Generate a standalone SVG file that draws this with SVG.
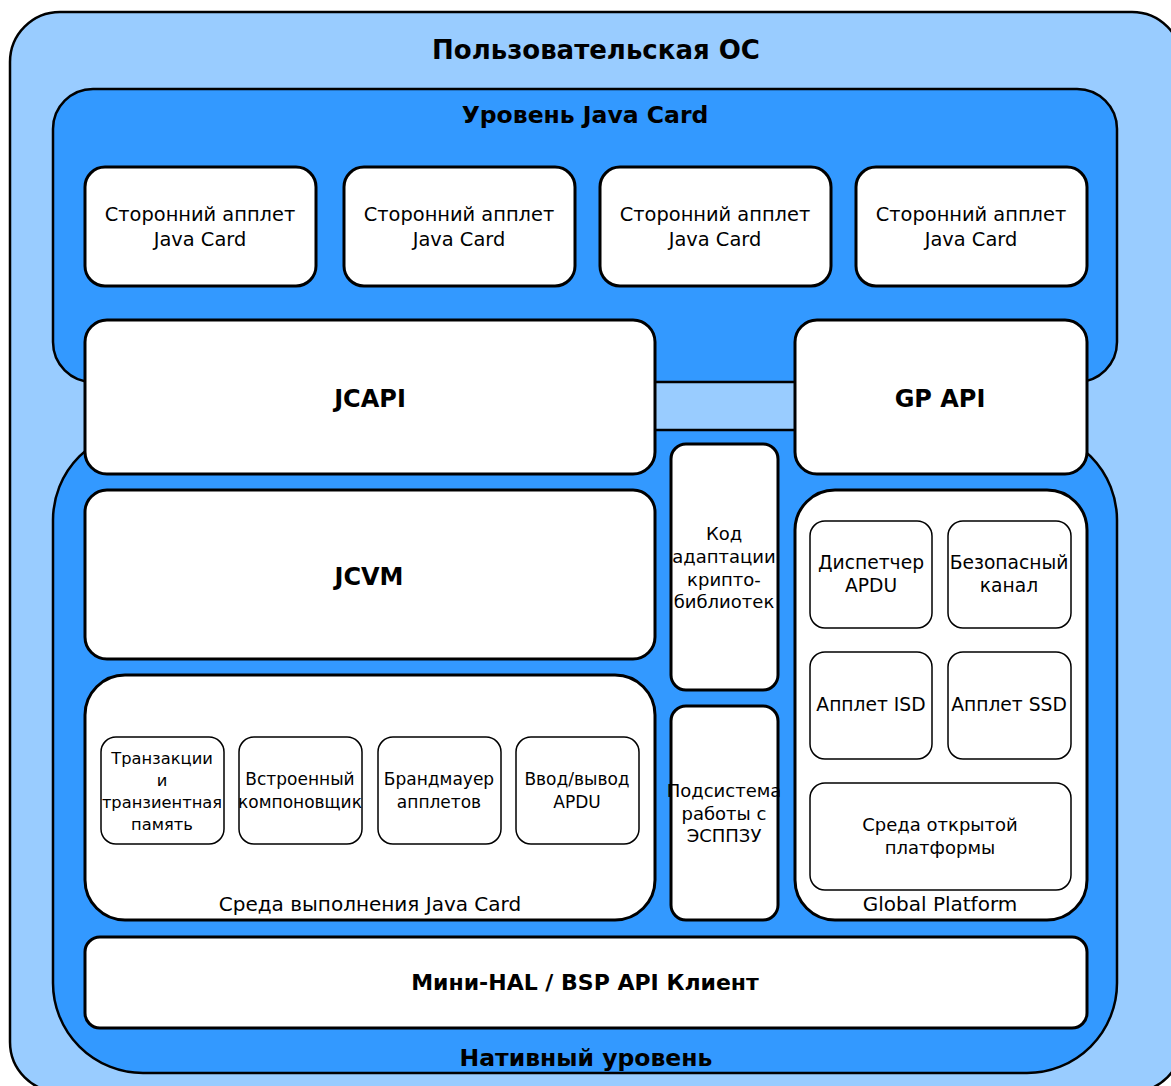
<svg xmlns="http://www.w3.org/2000/svg" width="1171" height="1086" viewBox="0 0 1171 1086">
<style>
.layer0{fill:#99CCFF;stroke:#000;stroke-width:2.5}
.layer{fill:#3399FF;stroke:#000;stroke-width:2.5}
.box{fill:#fff;stroke:#000;stroke-width:3}
.sub{fill:#fff;stroke:#000;stroke-width:1.5}
text{font-family:"DejaVu Sans","Liberation Sans",sans-serif;fill:#000;text-anchor:middle}
.t{font-size:19.4px}
.l{font-size:20px}
.o{font-size:18px}
.s{font-size:17px}
.s2{font-size:16.3px}
.c{font-size:18px}
.g{font-size:18.7px}
.b{font-size:24px;font-weight:bold}
.m{font-size:22px;font-weight:bold}
.lt{font-size:23.5px;font-weight:bold}
.h{font-size:26px;font-weight:bold}
</style>
<rect x="10" y="12" width="1172" height="1080" rx="50" class="layer0"/>
<text x="596" y="59" class="h">Пользовательская ОС</text>
<g id="javacard-layer">
<rect x="53" y="89" width="1064" height="293" rx="40" class="layer"/>
<text x="585" y="123" class="lt">Уровень Java Card</text>
</g>
<g id="native-layer">
<rect x="53" y="430" width="1064" height="643" rx="90" class="layer"/>
<text x="586" y="1066" class="lt">Нативный уровень</text>
</g>
<g id="applet1"><rect x="85" y="167" width="231" height="119" rx="20" class="box"/><text x="200" y="221" class="t">Сторонний апплет</text><text x="200" y="246" class="t">Java Card</text></g>
<g id="applet2"><rect x="344" y="167" width="231" height="119" rx="20" class="box"/><text x="459" y="221" class="t">Сторонний апплет</text><text x="459" y="246" class="t">Java Card</text></g>
<g id="applet3"><rect x="600" y="167" width="231" height="119" rx="20" class="box"/><text x="715" y="221" class="t">Сторонний апплет</text><text x="715" y="246" class="t">Java Card</text></g>
<g id="applet4"><rect x="856" y="167" width="231" height="119" rx="20" class="box"/><text x="971" y="221" class="t">Сторонний апплет</text><text x="971" y="246" class="t">Java Card</text></g>
<g id="jcapi"><rect x="85" y="320" width="570" height="154" rx="22" class="box"/><text x="370" y="407" class="b">JCAPI</text></g>
<g id="gpapi"><rect x="795" y="320" width="292" height="154" rx="22" class="box"/><text x="940" y="407" class="b">GP API</text></g>
<g id="jcvm"><rect x="85" y="490" width="570" height="169" rx="22" class="box"/><text x="369" y="585" class="b">JCVM</text></g>
<g id="jcre">
<rect x="85" y="675" width="570" height="245" rx="40" class="box"/>
<text x="370" y="911" class="l">Среда выполнения Java Card</text>
<g id="transactions"><rect x="101" y="737" width="123" height="107" rx="15" class="sub"/><text x="162" y="764" class="s2">Транзакции</text><text x="162" y="786" class="s2">и</text><text x="162" y="808" class="s2">транзиентная</text><text x="162" y="830" class="s2">память</text></g>
<g id="linker"><rect x="239" y="737" width="123" height="107" rx="15" class="sub"/><text x="300" y="785" class="s">Встроенный</text><text x="300" y="808" class="s">компоновщик</text></g>
<g id="firewall"><rect x="378" y="737" width="123" height="107" rx="15" class="sub"/><text x="439" y="785" class="s">Брандмауер</text><text x="439" y="808" class="s">апплетов</text></g>
<g id="apduio"><rect x="516" y="737" width="123" height="107" rx="15" class="sub"/><text x="577" y="785" class="s">Ввод/вывод</text><text x="577" y="808" class="s">APDU</text></g>
</g>
<g id="crypto"><rect x="671" y="444" width="107" height="246" rx="15" class="box"/><text x="724" y="540" class="c">Код</text><text x="724" y="563" class="c">адаптации</text><text x="724" y="586" class="c">крипто-</text><text x="724" y="608" class="c">библиотек</text></g>
<g id="eeprom"><rect x="671" y="706" width="107" height="214" rx="15" class="box"/><text x="724" y="797" class="c">Подсистема</text><text x="724" y="820" class="c">работы с</text><text x="724" y="842" class="c">ЭСППЗУ</text></g>
<g id="gp">
<rect x="795" y="490" width="292" height="430" rx="40" class="box"/>
<text x="940" y="911" class="l">Global Platform</text>
<g id="apdudisp"><rect x="810" y="521" width="122" height="107" rx="15" class="sub"/><text x="871" y="569" class="g">Диспетчер</text><text x="871" y="592" class="g">APDU</text></g>
<g id="securech"><rect x="948" y="521" width="123" height="107" rx="15" class="sub"/><text x="1009" y="569" class="g">Безопасный</text><text x="1009" y="592" class="g">канал</text></g>
<g id="isd"><rect x="810" y="652" width="122" height="107" rx="15" class="sub"/><text x="871" y="711" class="g">Апплет ISD</text></g>
<g id="ssd"><rect x="948" y="652" width="123" height="107" rx="15" class="sub"/><text x="1009" y="711" class="g">Апплет SSD</text></g>
<g id="ope"><rect x="810" y="783" width="261" height="107" rx="15" class="sub"/><text x="940" y="831" class="o">Среда открытой</text><text x="940" y="854" class="o">платформы</text></g>
</g>
<g id="minihal"><rect x="85" y="937" width="1002" height="91" rx="15" class="box"/><text x="585" y="990" class="m">Мини-HAL / BSP API Клиент</text></g>
<g id="connectors"></g>
</svg>
